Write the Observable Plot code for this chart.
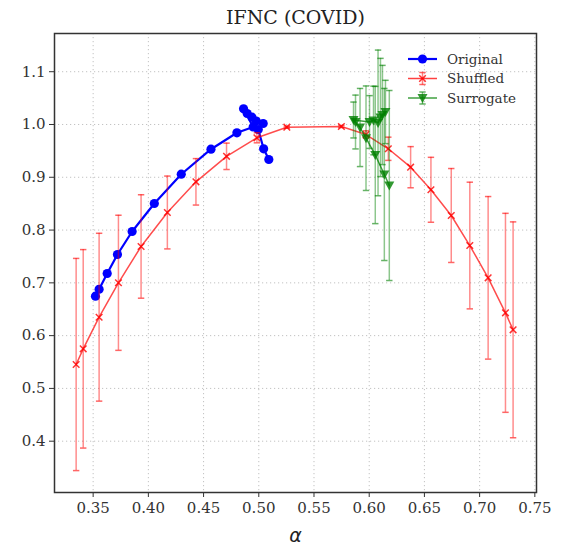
<!DOCTYPE html>
<html><head><meta charset="utf-8">
<script src="https://cdn.jsdelivr.net/npm/d3@7"></script>
<script src="https://cdn.jsdelivr.net/npm/@observablehq/plot@0.6"></script>
<style>body{margin:0;background:#fff;} #chart{position:relative;width:566px;height:552px;}</style>
</head><body><div id="chart"></div>
<script>
// ---- data ----
const titleText = "IFNC (COVID)";
const xLabel = "α";
const seriesNames = ["Original", "Shuffled", "Surrogate"];
const xTicks = [0.35, 0.40, 0.45, 0.50, 0.55, 0.60, 0.65, 0.70, 0.75];
const yTicks = [0.4, 0.5, 0.6, 0.7, 0.8, 0.9, 1.0, 1.1];

const originalX = [0.3521, 0.3554, 0.3627, 0.3720, 0.3853, 0.4054, 0.4298, 0.4567, 0.4802, 0.4949, 0.4862, 0.4895, 0.4938, 0.4977, 0.5040, 0.4995, 0.5044, 0.5091];
const originalY = [0.6747, 0.6879, 0.7177, 0.7537, 0.7973, 0.8503, 0.9058, 0.9532, 0.9843, 0.9953, 1.0297, 1.0208, 1.0138, 1.0066, 1.0019, 0.9905, 0.9540, 0.9337];

const shuffledX = [0.3346, 0.3410, 0.3554, 0.3729, 0.3934, 0.4172, 0.4431, 0.4708, 0.4983, 0.5254, 0.5748, 0.5971, 0.6173, 0.6375, 0.6559, 0.6743, 0.6911, 0.7077, 0.7234, 0.7303];
const shuffledY = [0.5453, 0.5750, 0.6349, 0.7001, 0.7689, 0.8333, 0.8914, 0.9397, 0.9748, 0.9949, 0.9962, 0.9810, 0.9540, 0.9191, 0.8763, 0.8276, 0.7707, 0.7095, 0.6432, 0.6110];
const shuffledErr = [0.201, 0.188, 0.159, 0.128, 0.098, 0.069, 0.044, 0.025, 0.0095, 0.002, 0.002, 0.007, 0.022, 0.039, 0.0615, 0.089, 0.120, 0.154, 0.1885, 0.2045];

const surrogateX = [0.6182, 0.6137, 0.6055, 0.5971, 0.5917, 0.5876, 0.5858, 0.6003, 0.6039, 0.6080, 0.6102, 0.6120, 0.6147];
const surrogateY = [0.8844, 0.9053, 0.9422, 0.9740, 0.9943, 1.0047, 1.0085, 1.0047, 1.0076, 1.0030, 1.0133, 1.0180, 1.0237];
const surrogateErr = [0.180, 0.163, 0.130, 0.099, 0.074, 0.051, 0.034, 0.050, 0.065, 0.138, 0.112, 0.094, 0.060];

const colors = ["blue", "red", "green"];

// ---- tables ----
const original = originalX.map((x, i) => ({x, y: originalY[i]}));
const shuffled = shuffledX.map((x, i) => ({x, y: shuffledY[i], e: shuffledErr[i]}));
const surrogate = surrogateX.map((x, i) => ({x, y: surrogateY[i], e: surrogateErr[i]}));

// ---- symbols ----
const capSym = {draw(ctx, size) { const r = Math.sqrt(size / Math.PI); ctx.moveTo(-r, 0); ctx.lineTo(r, 0); }};
const xSym = {draw(ctx, size) { const r = Math.sqrt(size / Math.PI); ctx.moveTo(-r, -r); ctx.lineTo(r, r); ctx.moveTo(-r, r); ctx.lineTo(r, -r); }};
const triDown = {draw(ctx, size) { const r = Math.sqrt(size / Math.PI); ctx.moveTo(-r, -r * 0.8); ctx.lineTo(r, -r * 0.8); ctx.lineTo(0, r); ctx.closePath(); }};

function errMarks(data, color, barOpacity) {
  return [
    Plot.ruleX(data, {x: "x", y1: d => d.y - d.e, y2: d => d.y + d.e, stroke: color, strokeOpacity: barOpacity, strokeWidth: 1.5}),
    Plot.dot(data, {x: "x", y: d => d.y - d.e, symbol: capSym, r: 3.2, stroke: color, strokeOpacity: barOpacity + 0.15, strokeWidth: 1.5}),
    Plot.dot(data, {x: "x", y: d => d.y + d.e, symbol: capSym, r: 3.2, stroke: color, strokeOpacity: barOpacity + 0.15, strokeWidth: 1.5})
  ];
}

const fontSerif = "'DejaVu Serif', serif";

const plot = Plot.plot({
  width: 566, height: 552,
  marginLeft: 54, marginRight: 30, marginTop: 33, marginBottom: 60,
  style: {fontFamily: fontSerif, fontSize: "15px", color: "#333", background: "white"},
  x: {domain: [0.315, 0.7515]},
  y: {domain: [0.3028, 1.1724]},
  marks: [
    Plot.gridX(xTicks, {stroke: "#aaa", strokeOpacity: 0.8, strokeDasharray: "1.2,2.8", strokeWidth: 0.9}),
    Plot.gridY(yTicks, {stroke: "#aaa", strokeOpacity: 0.8, strokeDasharray: "1.2,2.8", strokeWidth: 0.9}),
    Plot.axisX(xTicks, {tickFormat: d3.format(".2f"), tickSize: 5, tickPadding: 5, label: null, stroke: "#333"}),
    Plot.axisY(yTicks, {tickFormat: d3.format(".1f"), tickSize: 5, tickPadding: 4, label: null, stroke: "#333"}),
    // Original
    Plot.line(original, {x: "x", y: "y", stroke: colors[0], strokeWidth: 2.2}),
    Plot.dot(original, {x: "x", y: "y", r: 4.6, fill: colors[0]}),
    // Shuffled
    ...errMarks(shuffled, colors[1], 0.45),
    Plot.line(shuffled, {x: "x", y: "y", stroke: colors[1], strokeOpacity: 0.7, strokeWidth: 1.5}),
    Plot.dot(shuffled, {x: "x", y: "y", symbol: xSym, r: 3.3, stroke: colors[1], strokeOpacity: 0.8, strokeWidth: 1.5}),
    // Surrogate
    ...errMarks(surrogate, colors[2], 0.45),
    Plot.line(surrogate, {x: "x", y: "y", stroke: colors[2], strokeOpacity: 0.75, strokeWidth: 1.5}),
    Plot.dot(surrogate, {x: "x", y: "y", symbol: triDown, r: 5, fill: colors[2], fillOpacity: 0.8}),
    Plot.frame({stroke: "#333", strokeWidth: 1.5}),
    Plot.text([titleText], {frameAnchor: "top", lineAnchor: "middle", dy: -16, fontSize: 19, fill: "#222"}),
    Plot.text([xLabel], {frameAnchor: "bottom", lineAnchor: "middle", dy: 43, fontSize: 19, fontStyle: "italic", fontFamily: "'DejaVu Sans', sans-serif", fill: "#222"})
  ]
});
document.getElementById("chart").appendChild(plot);

// ---- legend ----
const svg = d3.select(plot);
const leg = svg.append("g").attr("font-family", fontSerif).attr("font-size", 13.5).attr("fill", "#333").attr("text-anchor", "start");
const legSyms = [d3.symbolCircle, xSym, triDown];
const legSizes = [Math.PI * 4.6 * 4.6, Math.PI * 3.3 * 3.3, Math.PI * 25];
const rowY = [59, 78.5, 98];
seriesNames.forEach((name, i) => {
  const g = leg.append("g").attr("transform", `translate(0,${rowY[i]})`);
  const op = i === 0 ? 1 : 0.75;
  g.append("line").attr("x1", 408).attr("x2", 437).attr("stroke", colors[i]).attr("stroke-width", i === 0 ? 2.2 : 1.5).attr("stroke-opacity", op);
  if (i > 0) {
    g.append("line").attr("x1", 422.5).attr("x2", 422.5).attr("y1", -6).attr("y2", 6).attr("stroke", colors[i]).attr("stroke-opacity", 0.5).attr("stroke-width", 1.5);
    [-6, 6].forEach(dy => g.append("line").attr("x1", 419.3).attr("x2", 425.7).attr("y1", dy).attr("y2", dy).attr("stroke", colors[i]).attr("stroke-opacity", 0.6).attr("stroke-width", 1.5));
  }
  const p = g.append("path").attr("transform", "translate(422.5,0)").attr("d", d3.symbol(legSyms[i], legSizes[i])());
  if (i === 1) p.attr("fill", "none").attr("stroke", colors[i]).attr("stroke-width", 1.5).attr("stroke-opacity", 0.8);
  else p.attr("fill", colors[i]).attr("fill-opacity", i === 2 ? 0.8 : 1);
  g.append("text").attr("x", 447).attr("dy", "0.35em").attr("text-anchor", "start").text(name);
});
</script>
</body></html>
